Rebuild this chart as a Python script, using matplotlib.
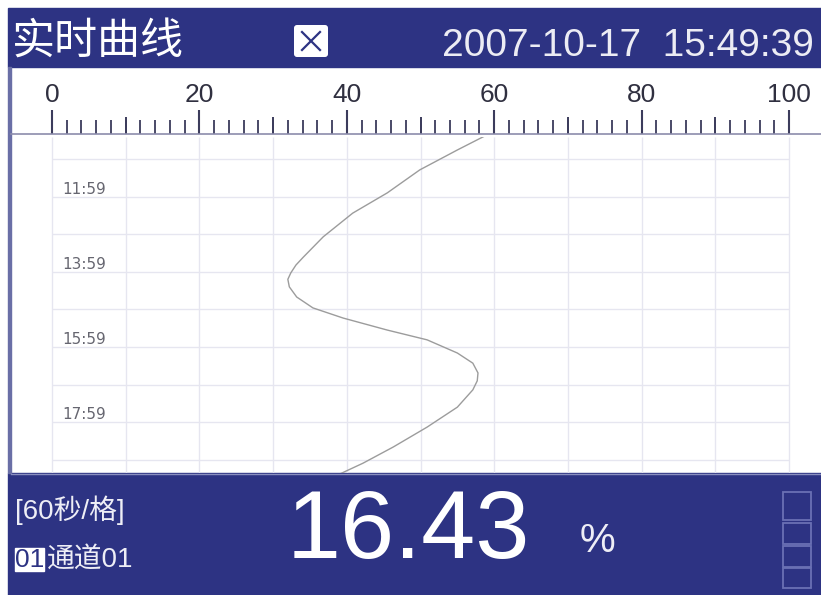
import numpy as np
import matplotlib
matplotlib.use('Agg')
import matplotlib.pyplot as plt
from matplotlib.patches import Rectangle, FancyBboxPatch

W, H = 821, 595

# scale and grid
scale_major = [0, 20, 40, 60, 80, 100]
scale_mid = [10, 30, 50, 70, 90]
scale_minor = list(range(0, 101, 2))
grid_values = list(range(0, 101, 10))
grid_rows = list(range(0, 9))

# time labels (one grid row = 60 s)
time_rows = [1, 3, 5, 7]
time_labels = ['11:59', '13:59', '15:59', '17:59']

# curve (row position, value in %)
curve_rows = [-0.64, -0.24, 0.29, 0.90, 1.44, 2.07, 2.61, 2.82, 3.03, 3.20, 3.40, 3.67,
              3.96, 4.23, 4.55, 4.81, 5.16, 5.43, 5.69, 5.90, 6.14, 6.60, 7.13, 7.66, 8.09, 8.40]
curve_vals = [59.0, 55.0, 49.9, 45.5, 40.8, 36.8, 34.1, 33.1, 32.4, 32.0, 32.2, 33.2,
              35.4, 39.5, 45.5, 50.9, 55.0, 57.1, 57.8, 57.7, 57.1, 55.0, 50.9, 46.3, 42.2, 38.8]

title = '实时曲线'
stamp = '2007-10-17  15:49:39'
period = '[60秒/格]'
channel_no = '01'
channel_name = '通道01'
reading = '16.43'
unit = '%'

blue = '#2d3383'
cjk = ['Liberation Sans', 'Noto Sans CJK SC', 'DejaVu Sans']

# pixel mapping of the value axis: 0 -> x=52, 100 -> x=789
x0_px, px_per_unit = 52, 7.37
# rows: row 0 -> y=159, 37.6 px per row
r0_px, px_per_row = 159, 37.6


def px_box(xa, ya, xb, yb):
    return [xa / W, 1 - yb / H, (xb - xa) / W, (yb - ya) / H]


def xlim_for(xa, xb):
    return ((xa - x0_px) / px_per_unit, (xb - x0_px) / px_per_unit)


fig = plt.figure(figsize=(W / 100, H / 100), dpi=100)
fig.patch.set_facecolor('white')

scr = fig.add_axes([0, 0, 1, 1])
scr.set_xlim(0, W)
scr.set_ylim(H, 0)
scr.axis('off')

# header, footer, left border
scr.add_patch(Rectangle((8, 8), W - 8, 59, color=blue))
scr.add_patch(Rectangle((8, 473), W - 8, H - 473, color=blue))
scr.add_patch(Rectangle((8, 67), 3, 406, color='#6a6fa6'))
scr.plot([11, W], [473.5, 473.5], color='#8a8fc0', lw=1)

scr.text(12, 42, title, color='white', fontsize=31, va='center', ha='left',
         family=['Noto Sans CJK SC'])
scr.add_patch(FancyBboxPatch((294, 25), 34, 32, boxstyle='round,pad=0,rounding_size=3',
                             fc='white', ec='none'))
scr.plot([302, 320], [32, 50], color=blue, lw=1.6)
scr.plot([302, 320], [50, 32], color=blue, lw=1.6)
scr.text(442, 46, stamp, color='#ececf4', fontsize=28, va='center', ha='left',
         family=['Liberation Sans', 'DejaVu Sans'])

# footer
scr.text(15, 510, period, color='#eeeef6', fontsize=20, va='center', ha='left', family=cjk)
scr.add_patch(Rectangle((15, 548), 29, 23, color='white'))
scr.text(29.5, 560, channel_no, color=blue, fontsize=19, va='center', ha='center',
         family=cjk)
scr.text(47, 560, channel_name, color='#eeeef6', fontsize=20, va='center', ha='left',
         family=cjk)
scr.text(408, 533, reading, color='white', fontsize=70, va='center', ha='center',
         family=['Liberation Sans', 'DejaVu Sans'])
scr.text(597, 541, unit, color='#eeeef6', fontsize=29, va='center', ha='center',
         family=['Liberation Sans', 'DejaVu Sans'])
for yy, hh in [(492, 28), (523, 21), (546, 21), (568, 20)]:
    scr.add_patch(Rectangle((783, yy), 28, hh, fc='none', ec='#6a71b4', lw=1.3))

# chart area
ax = fig.add_axes(px_box(11, 137, W, 473))
ax.set_facecolor('none')
ax.set_xlim(*xlim_for(11, W))
ax.set_ylim((473 - r0_px) / px_per_row, (137 - r0_px) / px_per_row)
for s in ax.spines.values():
    s.set_visible(False)
ax.set_xticks([])
ax.set_yticks([])
ax.vlines(grid_values, *ax.get_ylim(), color='#e6e6f0', lw=1)
ax.hlines(grid_rows, 0, 100, color='#e6e6f0', lw=1)
ax.plot(curve_vals, curve_rows, color='#9c9c9c', lw=1.0)
for r, lab in zip(time_rows, time_labels):
    ax.text(1.4, r - 0.08, lab, color='#666670', fontsize=11, ha='left', va='baseline')

# scale ruler
sc = fig.add_axes(px_box(11, 107, W, 134))
sc.set_facecolor('none')
sc.set_xlim(*xlim_for(11, W))
sc.set_ylim(0, 1)
for k in ['top', 'left', 'right']:
    sc.spines[k].set_visible(False)
sc.spines['bottom'].set_color('#8c8cab')
sc.spines['bottom'].set_linewidth(1.2)
sc.set_yticks([])
sc.set_xticks(scale_major)
sc.set_xticklabels([str(v) for v in scale_major], family=['Liberation Sans', 'DejaVu Sans'],
                   fontsize=19, color='#303040')
sc.set_xticks(scale_minor, minor=True)
sc.tick_params(axis='x', which='major', direction='in', length=17, width=1.5, color='#3c3c5c',
               bottom=True, top=False, labelbottom=False, labeltop=True, pad=0)
sc.tick_params(axis='x', which='minor', direction='in', length=10, width=1.3, color='#3c3c5c',
               bottom=True, top=False)
sc.vlines(scale_mid, 0, 0.62, color='#3c3c5c', lw=1.4)

fig.savefig('out.png', dpi=100)
